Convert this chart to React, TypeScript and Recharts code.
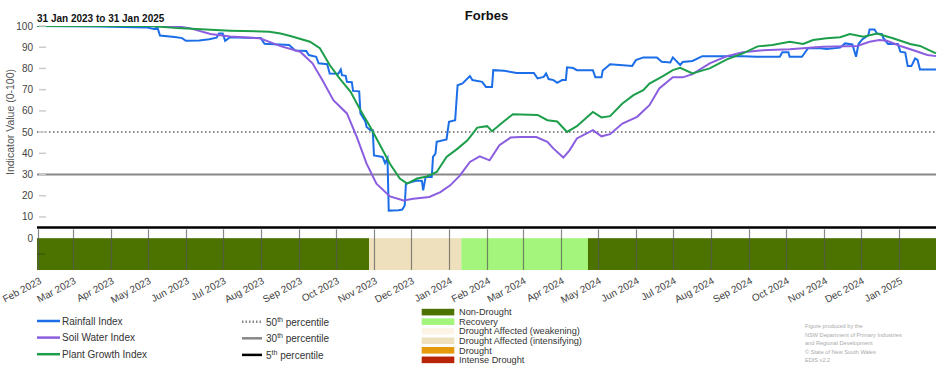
import React from "react";
import { ComposedChart, Line, XAxis, YAxis, ReferenceLine, ReferenceArea } from "recharts";

// x values are days since 31 Jan 2023 (31 Jan 2025 = day 731)
const chartTitle = "Forbes";
const periodLabel = "31 Jan 2023 to 31 Jan 2025";
const totalDays = 731;

const rainfallDays = [0, 50, 90, 95, 98, 100, 112, 118, 121, 132, 140, 146, 148, 151, 153, 157, 170, 182, 185, 205, 210, 219, 221, 227, 229, 236, 238, 245, 247, 248, 251, 252, 256, 257, 262, 263, 267, 268, 271, 273, 274, 281, 283, 285, 286, 294, 297, 299, 300, 309, 313, 314, 316, 321, 322, 324, 325, 333, 335, 340, 342, 346, 352, 354, 362, 365, 370, 371, 380, 390, 398, 404, 407, 412, 414, 416, 420, 423, 427, 430, 431, 436, 439, 452, 454, 459, 460, 466, 484, 487, 493, 504, 508, 515, 517, 523, 525, 533, 541, 558, 574, 585, 604, 606, 611, 612, 622, 627, 637, 642, 653, 657, 663, 666, 668, 671, 676, 677, 681, 683, 687, 688, 692, 700, 702, 706, 708, 711, 714, 716, 718, 731];
const rainfallValues = [100, 99.8, 99.3, 98.6, 99.2, 95.5, 94.8, 94.3, 93, 93.2, 93.8, 94.5, 96.5, 96.5, 93, 94.7, 94.5, 94.3, 91.6, 91, 88.4, 88.2, 86.3, 85.5, 82.4, 82, 77.6, 77.5, 79.5, 76.8, 76.5, 73.7, 73.5, 69.4, 69.2, 58.8, 55, 52.4, 51, 50.9, 39, 38.3, 35.4, 37.6, 13, 13.2, 13.5, 15.4, 25.7, 27.2, 27, 22.5, 28.8, 28.8, 38.3, 39.9, 45.4, 46.5, 54.8, 55.6, 72.1, 72.9, 76.4, 74.5, 73.7, 71.3, 71.3, 79.2, 78.9, 77.9, 77.9, 77.9, 75.3, 76, 77.6, 75, 74.5, 73.2, 74.5, 74.5, 80.5, 80.2, 79.2, 79.2, 75.8, 75.8, 79, 82, 81.2, 83.9, 85.2, 85.2, 83.1, 82.8, 85.2, 81.6, 83, 83.5, 85.8, 85.8, 85.8, 85.5, 85.5, 87.6, 87.6, 85.5, 85.5, 89.5, 89.5, 89.2, 89.8, 91.8, 91.3, 85.5, 91.5, 93.7, 95.7, 98.4, 98.4, 96.5, 96.2, 94.5, 91.5, 91.5, 87.9, 87.5, 81.1, 81.1, 84.7, 84, 79.5, 79.5];

const soilDays = [0, 92, 114, 124, 141, 157, 181, 189, 198, 214, 224, 232, 241, 252, 260, 268, 276, 287, 298, 306, 319, 328, 336, 344, 352, 360, 368, 376, 385, 393, 406, 415, 420, 428, 433, 439, 452, 459, 466, 476, 488, 498, 506, 517, 525, 533, 547, 561, 574, 588, 612, 639, 667, 677, 685, 691, 702, 712, 724, 731];
const soilValues = [100, 100, 99.8, 99, 96.2, 95, 94.2, 92.5, 90.5, 87.9, 82.4, 74.5, 65, 58.8, 47.7, 35.1, 25.7, 19.7, 17.8, 18.6, 19.4, 21.7, 24.9, 29.6, 35.9, 38.6, 36.7, 43.8, 47.4, 47.7, 47.7, 45.4, 42.2, 38, 41.4, 47, 50.9, 48, 49, 54, 57.2, 62.7, 70.6, 75.8, 75.8, 77.3, 82.4, 85.8, 87.6, 88.5, 89, 90.2, 90.6, 92.6, 93.4, 93, 90.6, 88.7, 86.3, 85.8];

const plantDays = [0, 92, 114, 157, 189, 198, 206, 222, 230, 238, 246, 255, 263, 271, 279, 287, 295, 301, 309, 317, 325, 333, 342, 350, 358, 366, 370, 379, 387, 407, 415, 423, 431, 439, 452, 459, 466, 476, 485, 493, 498, 509, 517, 523, 533, 542, 547, 561, 574, 586, 598, 612, 623, 631, 642, 653, 661, 672, 683, 696, 710, 718, 724, 731];
const plantValues = [100, 100, 99, 97.8, 97.3, 96.5, 95.3, 92.6, 89.5, 81.6, 75.3, 69, 60.3, 52.4, 43.8, 35.1, 28.1, 25.7, 28.1, 29.1, 31.2, 38.3, 42.2, 46.1, 52.1, 52.8, 50.4, 54.8, 58.4, 58.1, 55.6, 55, 50.1, 52.8, 59.5, 56.9, 57.5, 63.5, 67.4, 69.8, 72.9, 76.4, 79.2, 80.3, 77.6, 79.2, 80, 84.3, 87.1, 90.4, 91, 92.6, 91.5, 93.4, 94.2, 94.7, 96.2, 95, 96.5, 94.2, 91.5, 90.6, 89, 87.1];

const monthTickDays = [1, 29, 60, 90, 121, 151, 182, 213, 243, 274, 304, 335, 366, 395, 426, 456, 487, 517, 548, 579, 609, 640, 670, 701];
const monthTickLabels = ["Feb 2023", "Mar 2023", "Apr 2023", "May 2023", "Jun 2023", "Jul 2023", "Aug 2023", "Sep 2023", "Oct 2023", "Nov 2023", "Dec 2023", "Jan 2024", "Feb 2024", "Mar 2024", "Apr 2024", "May 2024", "Jun 2024", "Jul 2024", "Aug 2024", "Sep 2024", "Oct 2024", "Nov 2024", "Dec 2024", "Jan 2025"];

const droughtStartDays = [0, 270, 345, 448];
const droughtEndDays = [270, 345, 448, 731];
const droughtStates = ["Non-Drought", "Drought Affected (intensifying)", "Recovery", "Non-Drought"];

const droughtLegend = ["Non-Drought", "Recovery", "Drought Affected (weakening)", "Drought Affected (intensifying)", "Drought", "Intense Drought"];
const droughtColors: Record<string, string> = {
  "Non-Drought": "#4c7200",
  "Recovery": "#a3f67b",
  "Drought Affected (weakening)": "#fdf4e8",
  "Drought Affected (intensifying)": "#eee0bd",
  "Drought": "#e59a0d",
  "Intense Drought": "#b92405",
};

const barBottom = -15;
const gridTop = 4.2;
const yTicks = [-7.5, 0, 10, 20, 30, 40, 50, 60, 70, 80, 90, 100];
const seriesNames = ["Rainfall Index", "Soil Water Index", "Plant Growth Index"];
const seriesColors = ["#1b6ee8", "#8b5ee0", "#1d9e4b"];
const percentileValues = [50, 30, 5];
const percentileNums = ["50", "30", "5"];
const creditLines = ["Figure produced by the", "NSW Department of Primary Industries", "and Regional Development", "\u00a9 State of New South Wales", "EDIS v2.2"];

const FONT = "'Liberation Sans', Arial, sans-serif";

function buildTable() {
  const map = new Map<number, any>();
  const add = (days: number[], vals: number[], key: string) => {
    days.forEach((d, i) => {
      const row = map.get(d) ?? { day: d };
      row[key] = vals[i];
      map.set(d, row);
    });
  };
  add(rainfallDays, rainfallValues, "rain");
  add(soilDays, soilValues, "soil");
  add(plantDays, plantValues, "plant");
  return Array.from(map.values()).sort((a, b) => a.day - b.day);
}

const table = buildTable();

// Drought band: the area spans from barBottom to gridTop; the coloured rect covers barBottom..0,
// and the month grid lines falling within this band are drawn on top of it.
const makeBandShape = (i: number) => (props: any) => {
  const { x, y, width, height } = props;
  const start = droughtStartDays[i];
  const end = droughtEndDays[i];
  const zeroY = y + height * (gridTop / (gridTop - barBottom));
  const bottom = y + height;
  const lines = monthTickDays.filter((d) => d >= start && d < end);
  return (
    <g>
      <rect x={x} y={zeroY} width={width} height={bottom - zeroY} fill={droughtColors[droughtStates[i]]} />
      {lines.map((d) => {
        const lx = Math.round(x + ((d - start) / (end - start)) * width) + 0.5;
        return <line key={d} x1={lx} x2={lx} y1={y} y2={bottom} stroke="#555" strokeOpacity={0.7} strokeWidth={1.2} />;
      })}
    </g>
  );
};

const XTick = (props: any) => {
  const { x, y, payload } = props;
  const i = monthTickDays.indexOf(payload.value);
  const px = x + 4;
  const py = y + 13;
  return (
    <text x={px} y={py} transform={`rotate(-28, ${px}, ${py})`} textAnchor="end" fontSize={10} fill="#444" fontFamily={FONT}>
      {monthTickLabels[i]}
    </text>
  );
};

const YTick = (props: any) => {
  const { y, payload } = props;
  const v = payload.value;
  if (v < 0) {
    return <line x1={37} x2={45} y1={y} y2={y} stroke="#000" strokeOpacity={0.3} strokeWidth={1} />;
  }
  return (
    <g>
      <text x={33} y={y} dy={3.5} textAnchor="end" fontSize={10} fill="#444" fontFamily={FONT}>{v}</text>
      {v > 0 && <line x1={39} x2={46} y1={y} y2={y} stroke="#ccc" strokeWidth={1.5} />}
    </g>
  );
};

export default function App() {
  const rowH = 9.55;
  return (
    <div style={{ position: "absolute", left: 0, top: 0, width: 952, height: 370, background: "#fff" }}>
      <ComposedChart width={952} height={370} data={table} margin={{ top: 26, right: 16, bottom: 40, left: 0 }}>
        <XAxis
          type="number"
          dataKey="day"
          domain={[0, totalDays]}
          ticks={monthTickDays}
          interval={0}
          tick={<XTick />}
          tickSize={0}
          tickMargin={0}
          axisLine={false}
          tickLine={false}
          height={60}
        />
        <YAxis
          type="number"
          domain={[barBottom, 100]}
          ticks={yTicks}
          interval={0}
          tick={<YTick />}
          axisLine={false}
          tickLine={false}
          width={37}
          allowDataOverflow
        />
        {droughtStates.map((s, i) => (
          <ReferenceArea
            key={"d" + i}
            x1={droughtStartDays[i]}
            x2={droughtEndDays[i]}
            y1={barBottom}
            y2={gridTop}
            fill={droughtColors[s]}
            stroke="none"
            shape={makeBandShape(i)}
          />
        ))}
        <ReferenceLine y={percentileValues[0]} stroke="#888" strokeWidth={2} strokeDasharray="1.5 2.5" />
        <ReferenceLine y={percentileValues[1]} stroke="#888" strokeWidth={2} />
        <ReferenceLine y={percentileValues[2]} stroke="#000" strokeWidth={2.5} />
        <Line type="linear" dataKey="rain" stroke={seriesColors[0]} strokeWidth={2} dot={false} connectNulls isAnimationActive={false} />
        <Line type="linear" dataKey="soil" stroke={seriesColors[1]} strokeWidth={2} dot={false} connectNulls isAnimationActive={false} />
        <Line type="linear" dataKey="plant" stroke={seriesColors[2]} strokeWidth={2} dot={false} connectNulls isAnimationActive={false} />
      </ComposedChart>
      <svg width={952} height={370} style={{ position: "absolute", left: 0, top: 0, pointerEvents: "none" }} fontFamily={FONT}>
        <text x={486.5} y={20} textAnchor="middle" fontSize={13} fontWeight="bold" fill="#111">{chartTitle}</text>
        <text x={37} y={22} fontSize={10} fontWeight="bold" fill="#111">{periodLabel}</text>
        <text x={0} y={0} transform="translate(14, 122) rotate(-90)" textAnchor="middle" fontSize={10.5} fill="#555">Indicator Value (0-100)</text>
        {seriesNames.map((n, i) => (
          <g key={n}>
            <line x1={37} x2={60} y1={321 + i * 16.6} y2={321 + i * 16.6} stroke={seriesColors[i]} strokeWidth={2.5} />
            <text x={62} y={321 + i * 16.6 + 3.5} fontSize={10} fill="#333">{n}</text>
          </g>
        ))}
        {percentileNums.map((p, i) => (
          <g key={p}>
            <line
              x1={242}
              x2={262}
              y1={321.7 + i * 16.6}
              y2={321.7 + i * 16.6}
              stroke={i === 2 ? "#000" : "#888"}
              strokeWidth={2.5}
              strokeDasharray={i === 0 ? "1.5 2" : undefined}
            />
            <text x={266} y={321.7 + i * 16.6 + 4} fontSize={10} fill="#333">
              {p}
              <tspan dy={-4} fontSize={7}>th</tspan>
              <tspan dy={4}> percentile</tspan>
            </text>
          </g>
        ))}
        {droughtLegend.map((n, i) => (
          <g key={n}>
            <rect x={421.7} y={308.8 + i * rowH} width={32.6} height={6.6} fill={droughtColors[n]} />
            <text x={459} y={312 + i * rowH + 3.3} fontSize={9.2} fill="#333">{n}</text>
          </g>
        ))}
        {creditLines.map((c, i) => (
          <text key={c} x={805} y={328 + i * 8.6} fontSize={5.6} fill="#aaa">{c}</text>
        ))}
      </svg>
    </div>
  );
}
